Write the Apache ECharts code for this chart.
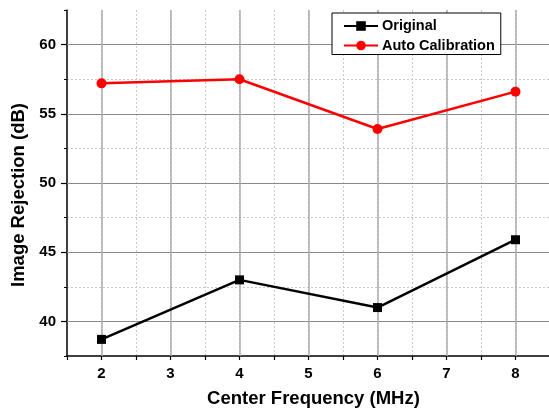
<!DOCTYPE html>
<html>
<head>
<meta charset="utf-8">
<script src="https://cdn.jsdelivr.net/npm/echarts@6/dist/echarts.min.js"></script>
<style>
  html, body { margin: 0; padding: 0; background: #fff; }
  #chart { width: 549px; height: 410px; }
</style>
</head>
<body>
<div id="chart"></div>
<script>
// Center frequencies (MHz)
const frequencies = [2, 4, 6, 8];
// Image rejection (dB) per series
const originalValues = [38.7, 43.0, 41.0, 45.9];
const autoCalValues = [57.2, 57.5, 53.9, 56.6];
// Major tick / grid positions
const xMajorTicks = [2, 3, 4, 5, 6, 7, 8];
const yMajorTicks = [40, 45, 50, 55, 60];

const FONT = '"Liberation Sans", Arial, Helvetica, sans-serif';

const pairs = (xs, ys) => xs.map((x, i) => [x, ys[i]]);

const chart = echarts.init(document.getElementById('chart'), null, { renderer: 'canvas' });

const option = {
  animation: false,
  backgroundColor: '#ffffff',
  grid: { left: 67, top: 10, right: -1, bottom: 54, containLabel: false, outerBoundsMode: 'none' },
  legend: {
    z: 50,
    orient: 'vertical',
    left: 332,
    top: 13,
    itemWidth: 34,
    itemHeight: 12,
    itemGap: 3.5,
    padding: [5, 6, 1, 11],
    borderColor: '#000',
    borderWidth: 1,
    backgroundColor: '#fff',
    textStyle: { fontFamily: FONT, fontWeight: 'bold', fontSize: 14.5, lineHeight: 16, color: '#000', padding: [0, 0, 0, -1] },
    data: ['Original', 'Auto Calibration']
  },
  xAxis: [
    {
      // minor dotted grid every 0.5
      type: 'value', min: 1.5, max: 8.5, interval: 0.5, position: 'bottom',
      axisLine: { show: false }, axisTick: { show: false }, axisLabel: { show: false },
      splitLine: { show: true, showMinLine: false, showMaxLine: false,
        lineStyle: { color: '#c8c8c8', type: [2, 2], width: 1 } }
    },
    {
      type: 'value', min: 1.5, max: 8.5, interval: 0.5, position: 'bottom',
      axisLine: { show: true, onZero: false, lineStyle: { color: '#000', width: 1.5 } },
      axisTick: { show: true, inside: false, length: 4, lineStyle: { color: '#000', width: 1.2 } },
      axisLabel: {
        margin: 10, color: '#000', fontFamily: FONT, fontWeight: 'bold', fontSize: 15,
        formatter: v => (Number.isInteger(v) ? String(v) : '')
      },
      splitLine: { show: false },
      name: 'Center Frequency (MHz)', nameLocation: 'middle', nameGap: 33,
      nameTextStyle: { color: '#000', fontFamily: FONT, fontWeight: 'bold', fontSize: 18.5, padding: [0, 0, 0, 10] }
    }
  ],
  yAxis: [
    {
      // minor dotted grid and short ticks every 2.5
      type: 'value', min: 37.5, max: 62.5, interval: 2.5, position: 'left',
      axisLine: { show: false },
      axisTick: { show: true, inside: false, length: 3, lineStyle: { color: '#000', width: 1 } },
      axisLabel: { show: false },
      splitLine: { show: true, showMinLine: false, showMaxLine: false,
        lineStyle: { color: '#c8c8c8', type: [2, 2], width: 1 } }
    },
    {
      type: 'value', min: 37.5, max: 62.5, interval: 2.5, position: 'left',
      axisLine: { show: true, onZero: false, lineStyle: { color: '#000', width: 1.5 } },
      axisTick: { show: true, inside: false, length: 6, customValues: yMajorTicks,
        lineStyle: { color: '#000', width: 1.2 } },
      axisLabel: {
        margin: 11, color: '#000', fontFamily: FONT, fontWeight: 'bold', fontSize: 15,
        customValues: yMajorTicks
      },
      splitLine: { show: false },
      name: 'Image Rejection (dB)', nameLocation: 'middle', nameGap: 33,
      nameTextStyle: { color: '#000', fontFamily: FONT, fontWeight: 'bold', fontSize: 18.5, padding: [0, 24, 0, 0] }
    }
  ],
  series: [
    {
      // solid major grid lines
      name: 'grid',
      type: 'line', xAxisIndex: 0, yAxisIndex: 0, data: [], z: 1, silent: true,
      markLine: {
        z: 1, silent: true, symbol: 'none', animation: false,
        label: { show: false },
        data: [
          ...yMajorTicks.map(v => ({ yAxis: v, lineStyle: { color: '#8a8a8a', width: 1.2, type: 'solid' } })),
          ...xMajorTicks.map(v => ({ xAxis: v, lineStyle: { color: '#ababab', width: 1.5, type: 'solid' } }))
        ]
      }
    },
    {
      name: 'Original', type: 'line', xAxisIndex: 1, yAxisIndex: 1, z: 5,
      data: pairs(frequencies, originalValues),
      symbol: 'rect', symbolSize: 9,
      lineStyle: { color: '#000', width: 2.5 },
      itemStyle: { color: '#000' }
    },
    {
      name: 'Auto Calibration', type: 'line', xAxisIndex: 1, yAxisIndex: 1, z: 5,
      data: pairs(frequencies, autoCalValues),
      symbol: 'circle', symbolSize: 10,
      lineStyle: { color: '#ff0000', width: 2.5 },
      itemStyle: { color: '#ff0000' }
    }
  ]
};

chart.setOption(option);
</script>
</body>
</html>
